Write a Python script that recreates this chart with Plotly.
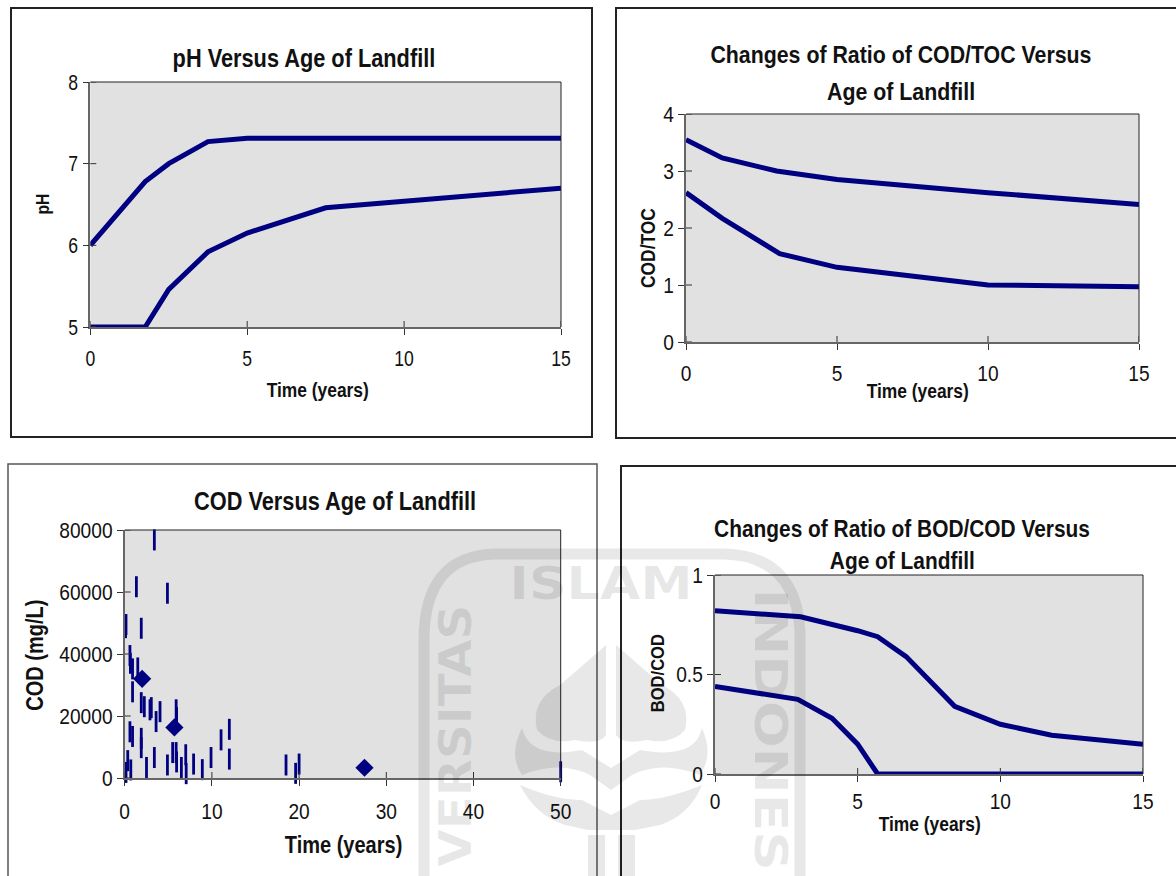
import plotly.graph_objects as go

W, H = 1176, 876
NAVY = "#000080"
FONT = "Liberation Sans, Arial"

ph_time_upper = [0, 1.75, 2.5, 3.75, 5, 15]
ph_upper = [6.0, 6.78, 7.0, 7.27, 7.31, 7.31]
ph_time_lower = [0, 1.75, 2.5, 3.75, 5, 7.5, 15]
ph_lower = [5, 5, 5.46, 5.92, 6.15, 6.46, 6.7]

ct_time_upper = [0, 1.2, 3, 5, 10, 15]
ct_upper = [3.55, 3.23, 3.0, 2.85, 2.62, 2.41]
ct_time_lower = [0, 1.2, 3.1, 5, 10, 15]
ct_lower = [2.62, 2.17, 1.55, 1.31, 1.0, 0.97]

bc_time_upper = [0, 3, 5, 5.7, 6.7, 8.4, 10, 11.8, 15]
bc_upper = [0.82, 0.79, 0.72, 0.69, 0.59, 0.34, 0.25, 0.195, 0.15]
bc_time_lower = [0, 2.9, 4.1, 5, 5.7, 15]
bc_lower = [0.44, 0.375, 0.28, 0.15, 0, 0]

cod_time = [3.4, 1.34, 4.9, 0.15, 0.1, 1.9, 0.6, 0.65, 0.9, 1.5, 0.9, 1.9, 2.25, 2.9, 3.05, 3.6, 4.05, 5.9, 5.95,
            0.6, 0.9, 1.9, 1.9, 0.35, 0.15, 0.7, 2.5, 3.4, 4.9, 5.5, 5.9, 5.95, 6.5, 7.0, 7.05, 7.9, 8.9, 9.9,
            11.05, 12, 12, 18.5, 19.6, 20, 50]
cod_value = [76800, 61700, 59600, 49500, 48500, 48300, 39500, 37000, 35200, 35500, 27800, 24300, 23000, 22000, 22700, 18200,
             21400, 22000, 19500, 14900, 13400, 12800, 9800, 5600, 1800, 2600, 3400, 6600, 4200, 8200, 8200, 5200, 3400,
             7500, 1400, 4500, 2700, 6600, 12300, 15700, 6100, 4200, 1500, 4500, 2000]
cod_key_time = [2, 5.7, 27.5]
cod_key_value = [32000, 16300, 3300]

panels = [
    dict(name="1", box=(90.3, 561, 82, 327), xr=[0, 15], yr=[5, 8], xt=[0, 5, 10, 15], yt=[5, 6, 7, 8],
         title=["pH Versus Age of Landfill"], title_xy=[(304, 58)], xlab=(317, 390), ylab=(43, 204), ytitle="pH",
         ysize=18, tsize=25, standoff=5),
    dict(name="2", box=(686, 1139, 114, 342), xr=[0, 15], yr=[0, 4], xt=[0, 5, 10, 15], yt=[0, 1, 2, 3, 4],
         title=["Changes of Ratio of COD/TOC Versus", "Age of Landfill"], title_xy=[(901, 55), (901, 91)],
         xlab=(917, 391), ylab=(648, 248), ytitle="COD/TOC", ysize=20, tsize=24.5, standoff=5),
    dict(name="3", box=(124.7, 560.7, 530, 778), xr=[0, 50], yr=[0, 80000], xt=[0, 10, 20, 30, 40, 50],
         yt=[0, 20000, 40000, 60000, 80000], title=["COD Versus Age of Landfill"], title_xy=[(335, 501)],
         xlab=(343, 845), ylab=(35, 655), ytitle="COD (mg/L)", ysize=23, tsize=25, standoff=7),
    dict(name="4", box=(715, 1143, 575, 774), xr=[0, 15], yr=[0, 1], xt=[0, 5, 10, 15], yt=[0, 0.5, 1],
         title=["Changes of Ratio of BOD/COD Versus", "Age of Landfill"], title_xy=[(902, 528), (902, 560)],
         xlab=(929, 824), ylab=(657, 673), ytitle="BOD/COD", ysize=19, tsize=24, standoff=1),
]

fig = go.Figure()


def px(x):
    return x / W


def py(y):
    return 1 - y / H


def line_trace(x, y, i):
    axis = "" if i == 1 else str(i)
    return go.Scatter(x=x, y=y, mode="lines", xaxis="x" + axis, yaxis="y" + axis, showlegend=False, cliponaxis=False,
                      line=dict(color=NAVY, width=5))


for x, y in [(ph_time_upper, ph_upper), (ph_time_lower, ph_lower)]:
    fig.add_trace(line_trace(x, y, 1))
for x, y in [(ct_time_upper, ct_upper), (ct_time_lower, ct_lower)]:
    fig.add_trace(line_trace(x, y, 2))
fig.add_trace(go.Scatter(x=cod_time, y=cod_value, mode="markers", xaxis="x3", yaxis="y3", showlegend=False, cliponaxis=False,
                         marker=dict(symbol="line-ns", size=15, color=NAVY, line=dict(color=NAVY, width=2.8))))
fig.add_trace(go.Scatter(x=cod_key_time, y=cod_key_value, mode="markers", xaxis="x3", yaxis="y3", showlegend=False,
                         cliponaxis=False, marker=dict(symbol="diamond", size=14, color=NAVY)))
for x, y in [(bc_time_upper, bc_upper), (bc_time_lower, bc_lower)]:
    fig.add_trace(line_trace(x, y, 4))

layout = dict(width=W, height=H, margin=dict(l=0, r=0, t=0, b=0, pad=0, autoexpand=False), paper_bgcolor="white",
              plot_bgcolor="#e1e1e1", font=dict(family=FONT, color="#111111", size=20), showlegend=False, autosize=False)
annotations = []
shapes = []


def rect(x0, y0, x1, y1, width=2, color="#222222"):
    shapes.append(dict(type="rect", xref="paper", yref="paper", x0=px(x0), x1=px(x1), y0=py(y0), y1=py(y1),
                       line=dict(color=color, width=width), layer="below"))


rect(11, 8, 592, 437)
rect(616, 8, 1190, 438)
rect(8, 464, 597, 890, 1.5, "#555555")
rect(621, 466, 1190, 890)

for p in panels:
    i = int(p["name"])
    s = "" if i == 1 else str(i)
    x0, x1, y0, y1 = p["box"]
    tick_kw = dict(ticks="outside", ticklen=6, tickwidth=1, tickcolor="#333333", showgrid=False, zeroline=False,
                   showline=True, linecolor="#666666", linewidth=1.5, mirror=False, tickfont=dict(size=22, family=FONT))
    layout["xaxis" + s] = dict(domain=[px(x0), px(x1)], range=p["xr"], tickvals=p["xt"], ticktext=[str(v) for v in p["xt"]],
                               anchor="y" + s, ticklabelstandoff=p["standoff"], **tick_kw)
    layout["yaxis" + s] = dict(domain=[py(y1), py(y0)], range=p["yr"], tickvals=p["yt"], ticktext=[str(v) for v in p["yt"]],
                               anchor="x" + s, **tick_kw)
    shapes.append(dict(type="line", xref="paper", yref="paper", x0=px(x0), x1=px(x1), y0=py(y0), y1=py(y0),
                       line=dict(color="#222222", width=1)))
    shapes.append(dict(type="line", xref="paper", yref="paper", x0=px(x1), x1=px(x1), y0=py(y0), y1=py(y1),
                       line=dict(color="#222222", width=1)))
    for v in p["xt"]:
        shapes.append(dict(type="line", xref="x" + s, yref="paper", x0=v, x1=v, y0=py(y1), y1=py(y1 - 6),
                           line=dict(color="#333333", width=1)))
    for v in p["yt"]:
        shapes.append(dict(type="line", xref="paper", yref="y" + s, x0=px(x0), x1=px(x0 + 6), y0=v, y1=v,
                           line=dict(color="#333333", width=1)))
    for text, (tx, ty) in zip(p["title"], p["title_xy"]):
        annotations.append(dict(text=text, xref="paper", yref="paper", x=px(tx), y=py(ty), showarrow=False,
                                xanchor="center", yanchor="middle",
                                font=dict(size=p["tsize"], family=FONT, color="#111111", weight=700)))
    annotations.append(dict(text="Time (years)", xref="paper", yref="paper", x=px(p["xlab"][0]), y=py(p["xlab"][1]),
                            showarrow=False, xanchor="center", yanchor="middle",
                            font=dict(size=23 if i == 3 else 20, family=FONT, color="#111111", weight=700)))
    annotations.append(dict(text=p["ytitle"], xref="paper", yref="paper", x=px(p["ylab"][0]), y=py(p["ylab"][1]),
                            showarrow=False, textangle=-90, xanchor="center", yanchor="middle",
                            font=dict(size=p["ysize"], family=FONT, color="#111111", weight=700)))

# pale university stamp that lies over the page
WM = "rgba(0,0,0,0.09)"


def path_to_paper(d):
    out, is_x = [], True
    for tok in d.split():
        if tok.isalpha():
            out.append(tok)
            is_x = True
        else:
            v = float(tok)
            out.append(str(px(v) if is_x else py(v)))
            is_x = not is_x
    return " ".join(out)


shapes.append(dict(type="path", xref="paper", yref="paper", layer="above", line=dict(color=WM, width=11),
                   path=path_to_paper("M 424 880 L 424 640 Q 424 556 495 554 L 725 554 Q 795 556 800 630 L 800 880")))
for d in [
    "M 606 645 L 560 685 Q 530 700 537 730 Q 550 745 575 740 Q 600 745 606 735 Z",
    "M 616 645 L 662 685 Q 692 700 685 730 Q 672 745 647 740 Q 622 745 616 735 Z",
    "M 522 728 Q 508 755 522 775 Q 560 760 590 775 L 611 790 L 632 775 Q 662 760 700 775 Q 714 755 702 728 "
    "Q 695 760 640 750 L 611 768 L 582 750 Q 530 760 522 728 Z",
    "M 520 785 Q 535 815 565 825 L 588 830 L 635 830 L 660 825 Q 690 815 702 785 Q 665 800 640 800 L 611 815 L 582 800 "
    "Q 555 800 520 785 Z",
    "M 588 835 L 605 835 L 605 880 L 588 880 Z",
    "M 618 835 L 635 835 L 635 880 L 618 880 Z",
]:
    shapes.append(dict(type="path", xref="paper", yref="paper", layer="above", fillcolor=WM, line=dict(width=0),
                       path=path_to_paper(d)))
for text, x, y, ang, size in [("ISLAM", 601, 583, 0, 44), ("VERSITAS", 455, 736, -90, 44), ("INDONES", 771, 730, 90, 44)]:
    annotations.append(dict(text=text, xref="paper", yref="paper", x=px(x), y=py(y), showarrow=False, textangle=ang,
                            xanchor="center", yanchor="middle",
                            font=dict(size=size, family="DejaVu Sans", color=WM, weight=700)))

layout["annotations"] = annotations
layout["shapes"] = shapes
fig.update_layout(**layout)

# The source text is a horizontally squeezed Arial; narrow upright labels to that proportion and spread the stamp lettering.
SQUEEZE = """
document.body.style.margin='0';
document.body.style.overflow='hidden';
var stamp={'ISLAM':183,'VERSITAS':262,'INDONES':282};
document.querySelectorAll('.main-svg text').forEach(function(t){
  var label=t.textContent, tr=t.getAttribute('transform')||'', n=t.getComputedTextLength(), target=null;
  if(stamp[label]) target=stamp[label];
  else if(/rotate/.test(tr)) return;
  else if(t.closest('.xtick,.ytick')) target=n*0.8;
  else target=n*0.87;
  t.setAttribute('textLength', target);
  t.setAttribute('lengthAdjust','spacingAndGlyphs');
});
"""
fig.write_html("out.html", post_script=SQUEEZE, config={"displayModeBar": False})
